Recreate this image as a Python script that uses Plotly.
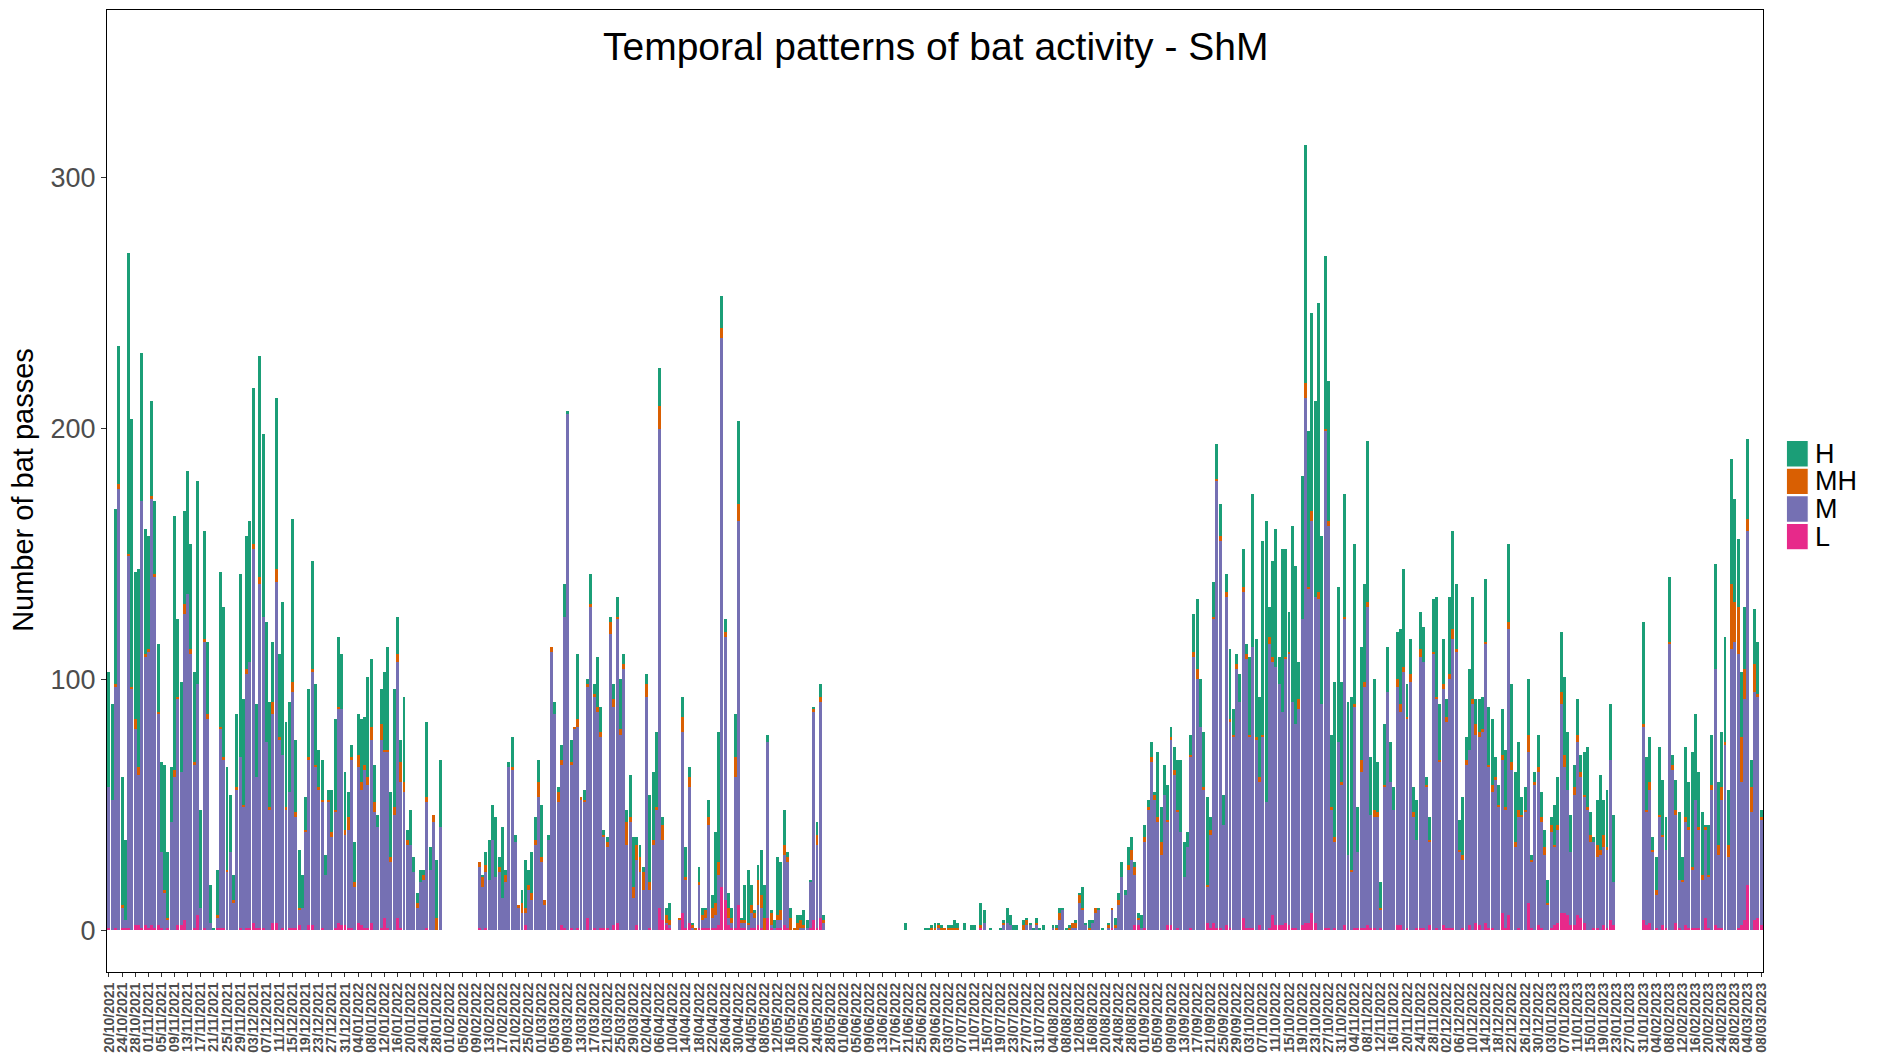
import plotly.graph_objects as go
import pandas as pd

# ---- categories: one bar per day ----
dates = pd.date_range("2021-10-20", "2023-03-08").strftime("%d/%m/%Y").tolist()
tick_labels = dates[::4]
N = None

# ---- series values (L, M, MH, H bat passes per night) ----
L = (
    [1,0,1,0,1,1,1,0,2,2, 1,2,1,2,1,2,1,0,1,0, 0,2,2,4,0,0,1,6,0,1, 0,0,0,1,1,1,0,0,0,0, 1,0,1,1,3,1]
    + [1,1,0,0,3,3,0,1,0,1, 1,1,2,0,0,2,2,0,0,1, 0,0,0,1,3,2,2,1,1,0, 3,2,1,1,3,0,0,1,5,1, 0,0,5,1,0,0,0,0]
    + [0,0,0,1,0,0,0,0] + [N]*11
    + [1,0,1,0,0,0,0,0,0,0, 0,0,0,0,2,0,0,0,0,0, 0,0,0,0,0,2,1]
    + [0,1,0,1,0,0,5,0,1,0, 1,1,1,0,2,3,0,0,0,0, 0,2,0,0,0,1,0,0,9,4, 2,1] + [N]*2
    + [0,7,1,3,0,0,1,1,1,1,1,1,2,17]
    + [12,2,1,1,10,1,1,0,1,1, 2,1,0,5,1,0,1,1,2,1, 0,0,0,0,0,0,1,4,1,5,0]
    + [N]*24
    + [0,N,N,N,N,N,0,0,0,0, 0,0,0,0,0,0,0,N,0,N, 0,0,N,1,0,N,0,N,N,0, 0,0,0,0,0,N,0,0,0,0,
       0,0,0,N,N,0,0,0,0,0, 0,0,0,0,0,0,0,0,0,0, 0,N,0,1,0,0,0,0]
    + [0,0,2,2,0,1,0,0,0,0, 0,0,2,2,0,1,0,0,0,1, 0,0,0,0,3,1,3,1,1,0, 2,1,0,0,0,5,1,1,1,0, 2,0,0,1,6,2,2,2]
    + [3,2,1,1,0,2,3,3,7,3, 0,0,1,1,0,1,0,0,2,0, 0,1,1,1,1,2,1,1,0,1, 0,0,0,0,2,2,0,1,0,0, 1,1,1,0,2,0,1,0,2]
    + [1,1,1,0,0,1,0,2,0,3, 2,0,3,1,1,0,0,7,1,6, 0,0,1,0,0,11,1,0,2,1, 0,0,1,2,3,7,7,6,2,2, 6,5,3,0,0,1,1,0,2]
    + [1,4,2] + [N]*8
    + [4,2,3,0,1,0,2,1,0,0, 3,1,0,2,1,1,1,1,0,5, 1,0,2,1,1,0,0,0,0,1, 2,4,18,0,4,5,2]
)

M = (
    [56,52,96,176,8,3,148,96,78,60, 170,107,110,170,140,84,30,15,3,43, 61,90,61,122,134,110,65,92,9,114,
     84,3,0,4,79,67,23,31,11,56, 68,49,101,106,149,60]
    + [137,124,75,48,83,136,76,69,48,54, 94,44,6,9,39,66,101,65,56,50, 22,51,37,46,85,86,36,39,67,17,
       62,54,63,57,73,47,41,75,66,70, 27,46,102,58,55,34,34,23]
    + [9,19,20,50,24,43,0,41] + [N]*11
    + [24,17,22,20,36,21,23,13,19,65, 64,35,9,7,5,16,12,34,53,27, 10,36,111,86,51,64,124]
    + [206,65,80,80,52,51,92,129,92,87, 76,36,32,118,87,121,78,104,34,43, 13,26,23,16,93,15,34,48,191,32, 1,1] + [N]*2
    + [4,72,19,54,1,0,17,3,4,41,4,5,20,219]
    + [105,3,2,60,153,2,2,2,6,4, 8,8,0,70,1,1,3,3,28,26, 0,0,0,1,1,1,18,83,33,86,3]
    + [N]*24
    + [0,N,N,N,N,N,0,0,0,0, 1,0,0,0,0,0,0,N,0,N, 0,0,N,0,3,N,0,N,N,0, 2,3,2,0,0,N,0,2,2,0,
       2,0,0,N,N,1,0,4,8,0, 0,1,1,11,8,2,0,3,7,8, 0,N,1,7,1,10,21,14]
    + [24,28,20,2,1,34,48,67,52,43, 30,54,41,74,62,46,39,21,33,68, 109,100,81,56,14,37,121,178,154,42,
       131,82,77,104,91,130,107,76,112,76, 57,77,51,113,101,103,96,85]
    + [105,108,90,81,88,122,209,133,156,130, 132,90,198,160,48,34,75,58,122,30, 23,88,30,62,96,127,45,44,45,7,
       57,95,59,48,95,85,103,83,99,45, 35,108,106,57,33,110,91,67,94]
    + [82,99,115,111,31,27,66,70,90,75, 75,79,111,64,54,60,49,61,47,114, 64,33,44,45,47,60,26,58,61,42,
       30,10,38,31,37,83,58,50,29,52, 69,56,50,48,35,34,28,30,31]
    + [31,64,17] + [N]*8
    + [77,45,53,31,13,45,35,31,114,64, 43,19,19,41,39,23,51,39,20,35, 20,56,102,29,51,74,29,112,115,109,
       57,88,141,47,91,88,42]
)

MH = (
    [0,0,1,2,1,0,1,1,4,3, 0,1,1,1,1,1,0,1,1,0, 3,1,0,4,0,2,1,0,0,1, 2,0,0,1,1,1,1,0,1,1, 0,1,2,0,2,0]
    + [3,0,0,1,5,5,1,0,1,0, 4,2,1,0,1,1,1,1,1,1, 0,1,2,1,1,0,2,5,1,2, 5,3,2,3,5,4,0,6,1,1, 2,3,3,8,4,2,0,0]
    + [2,0,2,2,0,3,5,0] + [N]*11
    + [2,4,3,0,0,0,2,0,3,0, 1,0,1,4,2,2,3,2,6,2, 2,0,2,0,4,2,0]
    + [0,1,1,3,1,1,1,1,1,2, 2,1,2,5,3,1,2,2,9,2, 4,6,6,7,5,3,2,1,9,6, 3,2] + [N]*2
    + [1,6,1,4,1,1,1,2,3,3,4,5,5,4]
    + [2,4,2,8,7,1,1,1,3,2, 10,5,5,0,5,0,2,4,4,2, 5,1,3,3,1,0,0,1,4,2,1]
    + [N]*24
    + [0,N,N,N,N,N,0,0,1,1, 1,1,1,1,1,1,1,N,0,N, 0,0,N,1,0,N,0,N,N,0, 1,0,0,0,0,N,2,2,0,0,
       1,0,0,N,N,0,1,3,0,0, 1,2,2,3,1,0,1,0,2,0, 0,N,1,1,1,2,0,0]
    + [2,4,3,1,0,2,1,2,2,2, 5,0,1,1,2,1,0,0,0,1, 2,4,0,1,1,2,1,1,2,0, 2,1,1,2,0,2,2,1,0,1, 2,1,0,3,2,0,0,0]
    + [1,1,0,0,4,0,6,1,4,0, 3,0,1,2,1,2,0,1,1,0, 1,1,0,5,2,2,0,3,2,1, 1,0,0,0,3,3,2,1,3,2, 0,3,0,1,1,1,1,1,2]
    + [2,2,4,1,1,2,2,0,2,4, 2,1,1,1,3,1,1,2,1,3, 3,2,3,1,1,7,1,1,2,2, 3,1,3,1,2,5,5,0,0,3, 3,2,1,1,3,0,5,2,5]
    + [1,0,0] + [N]*8
    + [1,1,3,1,2,1,1,0,1,2, 2,0,1,2,1,1,0,1,2,1, 1,2,0,4,5,1,5,26,16,19, 18,12,5,10,11,1,1]
)

H = (
    [46,38,70,55,51,32,120,107,59,79, 59,50,45,38,29,27,36,50,26,22, 101,31,36,37,49,42,36,81,39,43,
     29,15,1,18,62,60,41,23,10,29, 73,42,53,56,62,29]
    + [88,73,48,42,24,68,33,61,34,36, 65,29,23,13,13,27,43,32,15,16, 8,4,17,36,28,22,23,10,5,16,
       16,25,19,40,27,15,5,14,31,41, 26,47,15,9,34,4,14,6]
    + [4,5,2,30,9,0,23,27] + [N]*11
    + [0,1,5,16,14,24,4,28,2,2, 12,3,0,5,19,6,16,9,9,21, 0,2,0,5,2,6,13]
    + [1,9,0,26,0,4,2,12,4,20, 10,2,2,2,6,8,20,4,5,17, 20,3,5,2,4,35,27,30,15,3, 3,7] + [N]*2
    + [0,8,12,4,1,0,6,3,1,7,5,28,52,13]
    + [5,6,4,17,33,1,14,21,8,1, 6,18,13,3,1,3,23,19,14,2, 4,0,3,2,6,3,1,1,5,5,2]
    + [N]*24
    + [3,N,N,N,N,N,1,1,1,2, 1,1,0,1,1,3,2,N,3,N, 2,2,N,9,5,N,1,N,N,1, 1,6,4,2,2,N,2,1,1,1,
       2,1,2,N,N,1,1,2,1,1, 1,0,1,1,8,1,3,1,0,1, 1,N,1,0,3,3,6,2]
    + [7,5,2,2,5,5,3,6,1,26, 14,12,14,4,9,20,29,14,6,8, 15,28,19,22,35,5,14,14,13,12,
       7,28,10,4,11,15,4,31,61,39, 32,77,112,12,38,55,11,65]
    + [43,16,70,63,15,57,95,62,79,78, 115,67,69,56,29,62,62,40,49,61, 69,64,18,45,39,64,23,52,20,10,
       24,18,16,9,19,30,39,13,14,10, 16,15,14,3,9,21,40,22,18]
    + [7,31,39,26,12,23,9,32,41,10, 13,13,25,23,26,8,8,18,23,31, 31,28,27,7,9,22,2,4,13,10,
       7,9,3,16,19,24,31,23,15,9, 14,7,17,24,9,2,18,30,14]
    + [23,22,27] + [N]*8
    + [41,21,18,5,13,27,22,13,26,4, 12,27,9,28,18,46,34,22,25,1, 20,20,42,25,22,42,22,50,41,27,
       26,25,32,11,22,21,3]
)

for s in (L, M, MH, H):
    assert len(s) == len(dates), len(s)

series_names = ["L", "M", "MH", "H"]
series_colors = {"H": "#1B9E77", "MH": "#D95F02", "M": "#7570B3", "L": "#E7298A"}
series_values = {"L": L, "M": M, "MH": MH, "H": H}

FONT = "Liberation Sans, Arial, sans-serif"

fig = go.Figure()
for name in series_names:
    fig.add_bar(x=dates, y=series_values[name], name=name,
                marker=dict(color=series_colors[name], line=dict(width=0)),
                width=0.9, showlegend=False)

# figure geometry (page pixels); the html body adds an 8px offset
W, Hh = 1881, 1055
OFF = 8
pl, pr, pt, pb = 107.3, 1762.7, 9.6, 972.0
def px_x(x):
    return (x - pl) / (pr - pl)
def px_y(y):
    return (pb - y) / (pb - pt)

fig.update_layout(
    width=W, height=Hh,
    barmode="stack",
    paper_bgcolor="white", plot_bgcolor="white",
    margin=dict(l=pl - OFF, r=W + OFF - pr, t=pt - OFF, b=Hh + OFF - pb, pad=0, autoexpand=False),
    font=dict(family=FONT, color="black"),
    xaxis=dict(type="category", range=[-0.6, len(dates) - 0.4],
               tickmode="array", tickvals=tick_labels, ticktext=tick_labels,
               tickangle=-90, tickfont=dict(size=14, color="#4D4D4D", family=FONT, weight="bold"),
               ticks="outside", ticklen=4, tickcolor="#333333",
               showline=True, mirror=True, linecolor="black", linewidth=1,
               showgrid=False, zeroline=False, automargin=False),
    yaxis=dict(range=[-16.7, 366.9], tickmode="array", tickvals=[0, 100, 200, 300],
               tickfont=dict(size=27, color="#4D4D4D", family=FONT),
               ticks="outside", ticklen=5, tickcolor="#333333",
               showline=True, mirror=True, linecolor="black", linewidth=1,
               showgrid=False, zeroline=False, automargin=False),
)

annotations = [
    dict(text="Temporal patterns of bat activity - ShM", x=0.5, y=px_y(46), xref="paper", yref="paper",
         xanchor="center", yanchor="middle", showarrow=False, font=dict(size=39, color="black", family=FONT)),
    dict(text="Number of bat passes", x=px_x(24), y=px_y(490), xref="paper", yref="paper",
         xanchor="center", yanchor="middle", textangle=-90, showarrow=False,
         font=dict(size=29, color="black", family=FONT)),
]
shapes = []
legend_order = ["H", "MH", "M", "L"]
for i, name in enumerate(legend_order):
    cy = 453.6 + 27.6 * i
    shapes.append(dict(type="rect", xref="paper", yref="paper",
                       x0=px_x(1786), x1=px_x(1808), y0=px_y(cy + 13.3), y1=px_y(cy - 13.3),
                       fillcolor=series_colors[name], line=dict(width=1.2, color="white")))
    annotations.append(dict(text=name, x=px_x(1813), y=px_y(cy), xref="paper", yref="paper",
                            xanchor="left", yanchor="middle", showarrow=False,
                            font=dict(size=27, color="black", family=FONT)))
fig.update_layout(annotations=annotations, shapes=shapes)

fig.write_html("out.html")
